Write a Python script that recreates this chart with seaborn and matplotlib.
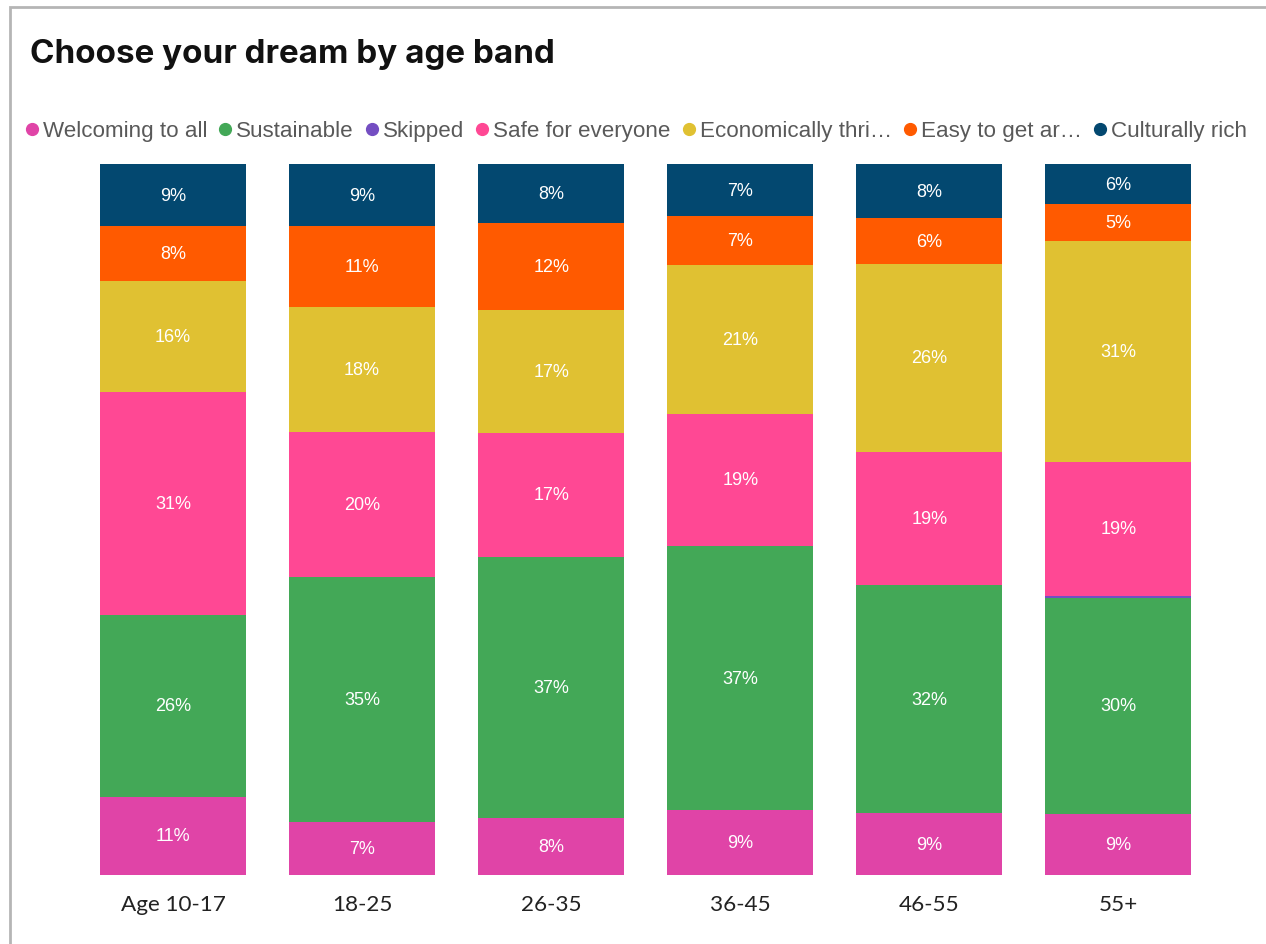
import matplotlib
matplotlib.use("Agg")
import matplotlib.pyplot as plt
from matplotlib.lines import Line2D
from matplotlib.patches import Rectangle
import numpy as np
import pandas as pd
import seaborn as sns

# Age bands and answer shares (percent of respondents)
age_bands = ["Age 10-17", "18-25", "26-35", "36-45", "46-55", "55+"]
welcoming = [11.0, 7.4, 8.0, 9.1, 8.7, 8.6]
sustainable = [25.6, 34.6, 36.8, 37.2, 32.1, 30.4]
skipped = [0.0, 0.0, 0.0, 0.0, 0.0, 0.3]
safe = [31.4, 20.4, 17.4, 18.6, 18.8, 18.8]
economic = [15.6, 17.6, 17.3, 20.9, 26.4, 31.1]
easy_travel = [7.7, 11.4, 12.2, 7.0, 6.4, 5.2]
cultural = [8.7, 8.6, 8.3, 7.2, 7.6, 5.6]

series_names = ["Welcoming to all", "Sustainable", "Skipped", "Safe for everyone",
                "Economically thri\u2026", "Easy to get ar\u2026", "Culturally rich"]
series_values = [welcoming, sustainable, skipped, safe, economic, easy_travel, cultural]
series_colors = ["#E044A7", "#43A857", "#744EC2", "#FF4894", "#E0C132", "#FF5A00", "#034870"]

sns.set_theme(style="white")
plt.rcParams["font.family"] = ["Liberation Sans", "DejaVu Sans"]

fig = plt.figure(figsize=(12.66, 9.45), dpi=100)
ax = fig.add_axes([0.062, 0.0730, 0.896, 0.7519])

# card border
fig.patches.append(Rectangle((10 / 1266, -0.05), 1.2, 1 - 8 / 945 + 0.05,
                             transform=fig.transFigure, fill=False,
                             edgecolor="#b5b5b5", linewidth=2))

bottom = np.zeros(len(age_bands))
for name, vals, color in zip(series_names, series_values, series_colors):
    df = pd.DataFrame({"band": age_bands, "share": vals})
    sns.barplot(data=df, x="band", y="share", order=age_bands, bottom=bottom.copy(),
                color=color, width=0.772, ax=ax, linewidth=0, saturation=1,
                errorbar=None)
    for i, v in enumerate(vals):
        if v >= 1:
            ax.text(i, bottom[i] + v / 2, f"{round(v):d}%", ha="center", va="center",
                    color="white", fontsize=13)
    bottom += np.array(vals)

ax.set_ylim(0, 100)
ax.set_xlim(-0.5, len(age_bands) - 0.5)
ax.set_xlabel("")
ax.set_ylabel("")
ax.set_yticks([])
ax.tick_params(axis="x", length=0, pad=14, labelsize=16.2, labelcolor="#222222")
for lbl in ax.get_xticklabels():
    lbl.set_fontfamily(["Lato", "DejaVu Sans"])
sns.despine(ax=ax, left=True, bottom=True)

fig.text(30 / 1266, 1 - 55 / 945, "Choose your dream by age band", fontsize=23.9,
         fontweight="bold", color="#111111", va="center", ha="left",
         family=["Inter", "DejaVu Sans"])

handles = [Line2D([0], [0], marker="o", linestyle="", markersize=8.5,
                  markerfacecolor=c, markeredgecolor=c) for c in series_colors]
fig.legend(handles, series_names, loc="center left", ncol=7,
           bbox_to_anchor=(-2 / 1266, 1 - 132 / 945), frameon=False,
           handletextpad=-0.1, columnspacing=0.2, handlelength=1.2,
           labelcolor="#595959", fontsize=16.1)

fig.savefig("out.png", dpi=100)
